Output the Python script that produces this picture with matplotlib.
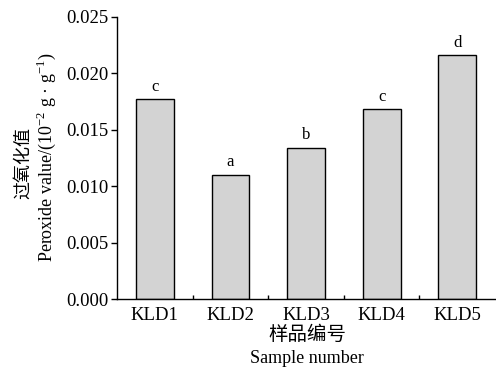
import matplotlib
matplotlib.use('Agg')
import matplotlib.pyplot as plt
import numpy as np

samples = ['KLD1', 'KLD2', 'KLD3', 'KLD4', 'KLD5']
peroxide = [0.0177, 0.0110, 0.0134, 0.0168, 0.0216]
letters = ['c', 'a', 'b', 'c', 'd']
yticks = [0.000, 0.005, 0.010, 0.015, 0.020, 0.025]

SERIF = ['Liberation Serif', 'DejaVu Serif']
CJK = ['Noto Sans CJK SC', 'DejaVu Sans']
plt.rcParams['font.family'] = SERIF
plt.rcParams['mathtext.fontset'] = 'custom'
plt.rcParams['mathtext.rm'] = 'Liberation Serif'

fig = plt.figure(figsize=(4.96, 3.67), dpi=100)
ax = fig.add_axes([0.236, 0.185, 0.762, 0.769])

x = np.arange(len(samples))
ax.bar(x, peroxide, width=0.5, color='#d3d3d3', edgecolor='black', linewidth=1.0)
for xi, v, lab in zip(x, peroxide, letters):
    ax.text(xi, v + 0.0004, lab, ha='center', va='bottom', fontsize=12)

ax.set_xlim(-0.5, 4.5)
ax.set_ylim(0, 0.025)
ax.set_yticks(yticks)
ax.set_yticklabels([f'{t:.3f}' for t in yticks])
ax.set_xticks(x)
ax.set_xticklabels(samples)
ax.set_xticks(x[:-1] + 0.5, minor=True)
ax.tick_params(axis='x', which='major', length=0, pad=6, labelsize=13.5)
ax.tick_params(axis='x', which='minor', direction='in', length=3, width=1)
ax.tick_params(axis='y', direction='out', length=4, width=1, labelsize=13.5, pad=2)
for s in ['top', 'right']:
    ax.spines[s].set_visible(False)
for s in ['left', 'bottom']:
    ax.spines[s].set_linewidth(1.0)

fig.text(0.046, 0.556, '过氧化值', rotation=90, ha='center', va='center',
         fontsize=13, family=CJK)
fig.text(0.093, 0.57, r'Peroxide value/(10$^{-2}$ g · g$^{-1}$)', rotation=90,
         ha='center', va='center', fontsize=13)
fig.text(0.619, 0.09, '样品编号', ha='center', va='center', fontsize=14, family=CJK)
fig.text(0.619, 0.022, 'Sample number', ha='center', va='center', fontsize=13)

fig.savefig('out.png', dpi=100)
